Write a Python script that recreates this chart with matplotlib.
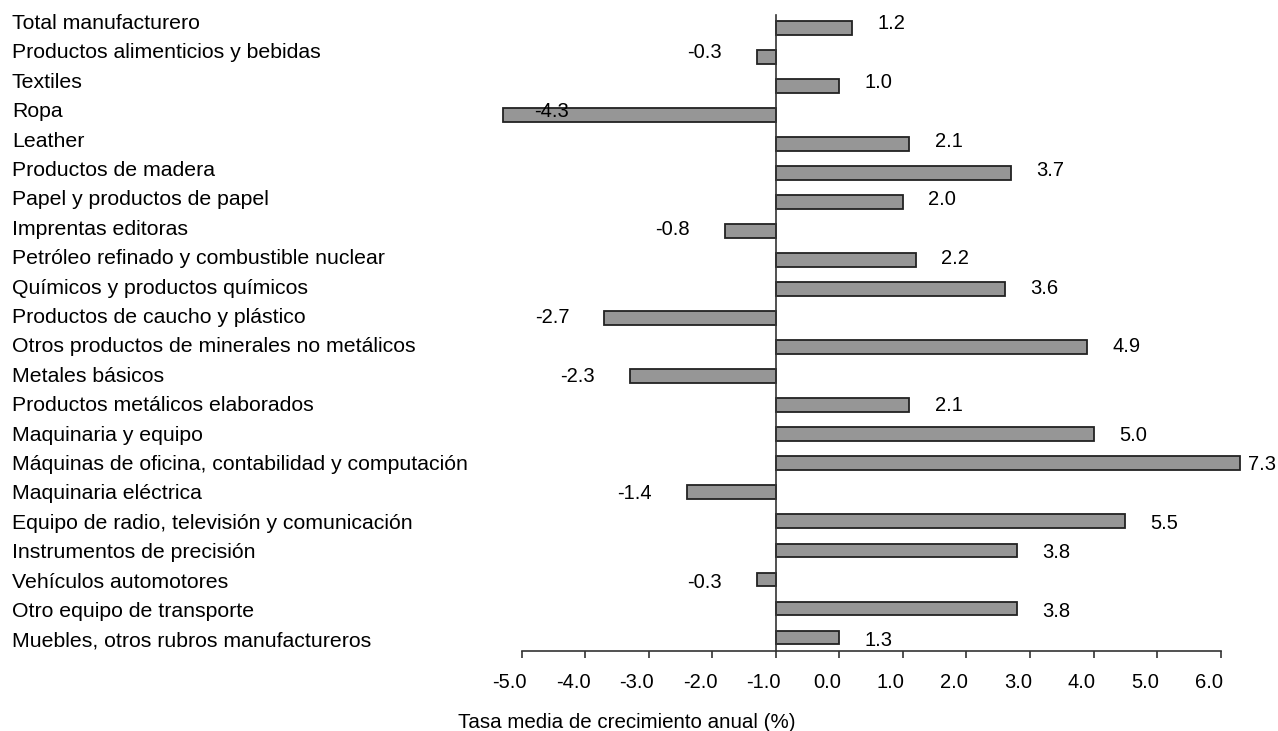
import matplotlib.pyplot as plt
from matplotlib.transforms import blended_transform_factory, ScaledTranslation

plt.rcParams["font.family"] = ["Liberation Sans", "DejaVu Sans"]

# ── data ──
categories = [
    "Total manufacturero",
    "Productos alimenticios y bebidas",
    "Textiles",
    "Ropa",
    "Leather",
    "Productos de madera",
    "Papel y productos de papel",
    "Imprentas editoras",
    "Petróleo refinado y combustible nuclear",
    "Químicos y productos químicos",
    "Productos de caucho y plástico",
    "Otros productos de minerales no metálicos",
    "Metales básicos",
    "Productos metálicos elaborados",
    "Maquinaria y equipo",
    "Máquinas de oficina, contabilidad y computación",
    "Maquinaria eléctrica",
    "Equipo de radio, televisión y comunicación",
    "Instrumentos de precisión",
    "Vehículos automotores",
    "Otro equipo de transporte",
    "Muebles, otros rubros manufactureros",
]
# bar lengths as drawn
values = [1.2, -0.3, 1.0, -4.3, 2.1, 3.7, 2.0, -0.8, 2.2, 3.6, -2.7,
          4.9, -2.3, 2.1, 5.0, 7.3, -1.4, 5.5, 3.8, -0.3, 3.8, 1.0]
# printed data labels
value_labels = ["1.2", "-0.3", "1.0", "-4.3", "2.1", "3.7", "2.0", "-0.8",
                "2.2", "3.6", "-2.7", "4.9", "-2.3", "2.1", "5.0", "7.3",
                "-1.4", "5.5", "3.8", "-0.3", "3.8", "1.3"]
tick_pos = list(range(-4, 8))
tick_labels = ["-5.0", "-4.0", "-3.0", "-2.0", "-1.0", "0.0",
               "1.0", "2.0", "3.0", "4.0", "5.0", "6.0"]

# ── chart ──
fig = plt.figure(figsize=(12.78, 7.31), dpi=100)
ax = fig.add_axes([0.3783, 0.1094, 0.6116, 0.8700])

y = list(range(len(categories)))
ax.barh(y, values, height=0.48, color="#969696", edgecolor="#222222",
        linewidth=1.3, zorder=2)

ax.set_xlim(-4.6, 7.7)
ax.set_ylim(len(categories) - 1 + 0.465, -0.45)

for s in ["top", "right"]:
    ax.spines[s].set_visible(False)
ax.spines["left"].set_position(("data", 0))
ax.spines["left"].set_color("#333333")
ax.spines["left"].set_linewidth(1.2)
ax.spines["bottom"].set_bounds(-4, 7)
ax.spines["bottom"].set_color("#333333")
ax.spines["bottom"].set_linewidth(1.2)
ax.set_yticks([])
ax.set_xticks(tick_pos)
ax.set_xticklabels(tick_labels)
ax.tick_params(axis="x", direction="out", length=5, width=1.2,
               color="#333333", labelsize=14.5, pad=11)
# the tick labels sit a little left of their ticks
shift = ScaledTranslation(-12 / 100, 0, fig.dpi_scale_trans)
for lab in ax.get_xticklabels():
    lab.set_transform(lab.get_transform() + shift)

# text rows run on a slightly wider pitch than the bars
text_rows = [i * 1.013 + 0.03 for i in y]

# category names, left aligned at the figure edge
trans = blended_transform_factory(fig.transFigure, ax.transData)
for ty, name in zip(text_rows, categories):
    ax.text(12 / 1278, ty, name, transform=trans, ha="left",
            va="baseline", fontsize=15.3)

# value labels
for ty, v, lab in zip(text_rows, values, value_labels):
    if v >= 0:
        ax.text(min(v + 0.4, 7.43), ty, lab, ha="left",
                va="baseline", fontsize=14.5)
    else:
        ax.text(max(v - 0.55, -3.25), ty, lab, ha="right",
                va="baseline", fontsize=14.5)

fig.text(627 / 1278, 1 - 722 / 731, "Tasa media de crecimiento anual (%)",
         ha="center", va="center", fontsize=14.8)

plt.savefig("out.png", dpi=100)
